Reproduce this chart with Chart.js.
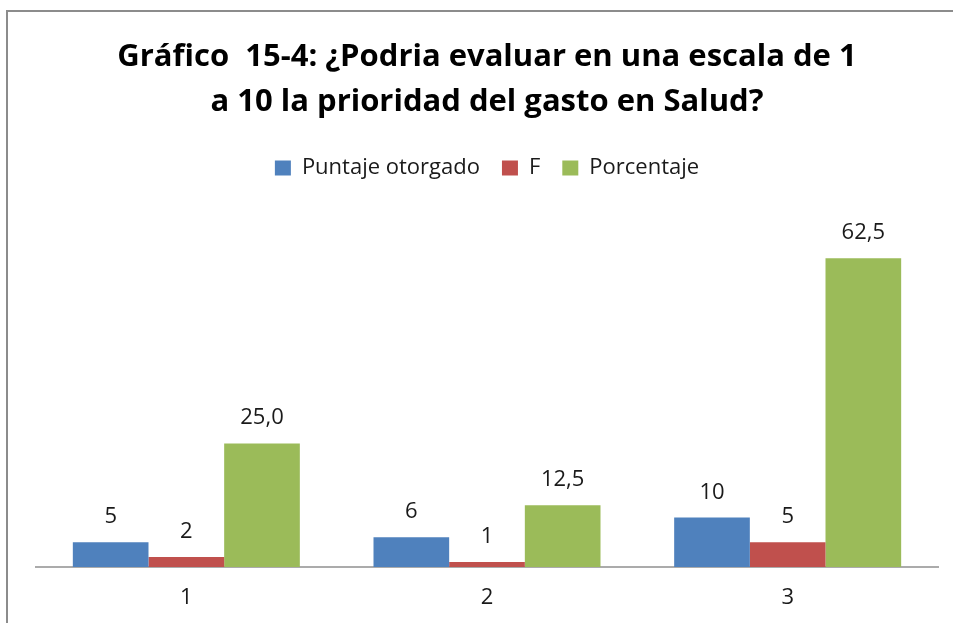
<!DOCTYPE html>
<html>
<head>
<meta charset="utf-8">
<script src="https://cdn.jsdelivr.net/npm/chart.js@4/dist/chart.umd.min.js"></script>
<style>
  html, body { margin: 0; padding: 0; background: #fff; overflow: hidden; width: 953px; height: 623px; }
  #frame { position: absolute; left: 6px; top: 10px; width: 1200px; height: 1200px; border: 2px solid #8c8c8c; box-sizing: border-box; }
  #c { position: absolute; left: 0; top: 0; }
</style>
</head>
<body>
<div id="frame"></div>
<canvas id="c" width="953" height="623"></canvas>
<script>
const categories = ["1", "2", "3"];
const seriesNames = ["Puntaje otorgado", "F", "Porcentaje"];
const puntaje = [5, 6, 10];
const frecuencia = [2, 1, 5];
const porcentaje = [25.0, 12.5, 62.5];
const titleLines = ["Gráfico  15-4: ¿Podria evaluar en una escala de 1", "a 10 la prioridad del gasto en Salud?"];

const FONT = "'Open Sans', Lato, sans-serif";
const TEXT = "#1a1a1a";

const valueLabels = {
  id: 'valueLabels',
  afterDatasetsDraw(chart) {
    const ctx = chart.ctx;
    ctx.save();
    ctx.font = "22px " + FONT;
    ctx.fillStyle = TEXT;
    ctx.textAlign = 'center';
    ctx.textBaseline = 'alphabetic';
    chart.data.datasets.forEach((ds, di) => {
      const meta = chart.getDatasetMeta(di);
      meta.data.forEach((el, i) => {
        const v = ds.data[i];
        const txt = ds.decimals ? v.toFixed(1).replace('.', ',') : String(v);
        ctx.fillText(txt, el.x, el.y - 19);
      });
    });
    ctx.restore();
  }
};

new Chart(document.getElementById('c'), {
  type: 'bar',
  data: {
    labels: categories,
    datasets: [
      { label: seriesNames[0], data: puntaje, backgroundColor: '#4F81BD' },
      { label: seriesNames[1], data: frecuencia, backgroundColor: '#C0504D' },
      { label: seriesNames[2], data: porcentaje, backgroundColor: '#9BBB59', decimals: true }
    ]
  },
  options: {
    responsive: false,
    animation: false,
    layout: { padding: { left: 36, right: 15, top: 0, bottom: 0 } },
    datasets: { bar: { categoryPercentage: 0.755, barPercentage: 1.0 } },
    plugins: {
      title: {
        display: true,
        text: titleLines,
        color: '#000',
        font: { family: FONT, size: 31, weight: 'bold', lineHeight: 45.5 / 31 },
        padding: { top: 34, bottom: 10 }
      },
      legend: {
        display: true,
        position: 'top',
        labels: {
          color: TEXT,
          font: { family: FONT, size: 22 },
          boxWidth: 16,
          boxHeight: 15,
          padding: 22
        }
      },
      tooltip: { enabled: false }
    },
    scales: {
      x: {
        grid: { display: false, drawTicks: false },
        border: { display: true, color: '#ababab', width: 2 },
        ticks: { color: TEXT, font: { family: FONT, size: 22 }, padding: 18 },
        afterFit(scale) { scale.height = 56; }
      },
      y: {
        display: false,
        min: 0,
        max: 76.5
      }
    }
  },
  plugins: [valueLabels]
});
</script>
</body>
</html>
